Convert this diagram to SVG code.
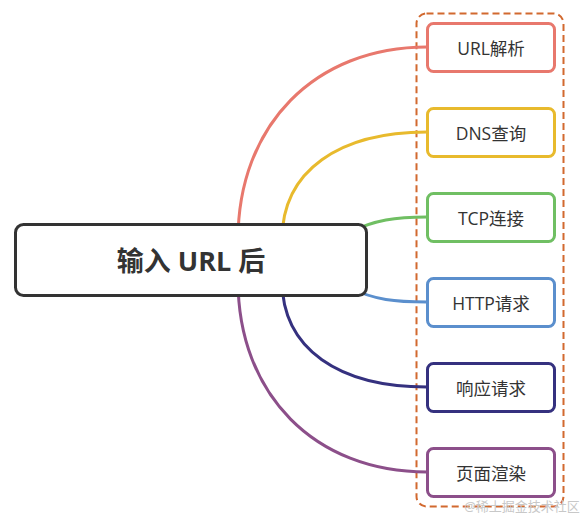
<svg xmlns="http://www.w3.org/2000/svg" width="580" height="517" viewBox="0 0 580 517">
<style>
.conn{fill:none;stroke-width:3}
.box{fill:#fff;stroke-width:3}
.lbl{font-family:"Open Sans","Noto Sans CJK SC",sans-serif;font-size:17.5px;fill:#333;text-anchor:middle;dominant-baseline:central}
.main{font-family:"Open Sans","Noto Sans CJK SC",sans-serif;font-size:27px;font-weight:bold;fill:#333;text-anchor:middle;dominant-baseline:central}
</style>
<rect width="580" height="517" fill="#fff"/>
<rect id="group-frame" x="416.5" y="13.5" width="147" height="493" rx="10" fill="none" stroke="#d2692f" stroke-width="2" stroke-dasharray="7,4"/>
<g id="connectors">
<path class="conn" stroke="#e8786d" d="M238,240 C238,125 315,47 427,47"/>
<path class="conn" stroke="#e8ba2d" d="M282,240 C282,170 340,132 427,132"/>
<path class="conn" stroke="#70bf63" d="M350,232 C375,220 395,217 427,217"/>
<path class="conn" stroke="#5b8fcd" d="M350,288 C375,300 395,302 427,302"/>
<path class="conn" stroke="#35317f" d="M282,280 C282,350 340,387 427,387"/>
<path class="conn" stroke="#8c4f8a" d="M238,280 C238,395 315,472 427,472"/>
</g>
<g id="main">
<rect x="15.5" y="224.5" width="351" height="71" rx="8" fill="#fff" stroke="#333" stroke-width="3"/>
<text class="main" x="191" y="260">输入 URL 后</text>
</g>
<g id="n1"><rect class="box" x="427.5" y="23.5" width="127" height="48" rx="6" stroke="#e8786d"/><text class="lbl" x="491" y="47.5">URL解析</text></g>
<g id="n2"><rect class="box" x="427.5" y="108.5" width="127" height="48" rx="6" stroke="#e8ba2d"/><text class="lbl" x="491" y="132.5">DNS查询</text></g>
<g id="n3"><rect class="box" x="427.5" y="193.5" width="127" height="48" rx="6" stroke="#70bf63"/><text class="lbl" x="491" y="217.5">TCP连接</text></g>
<g id="n4"><rect class="box" x="427.5" y="278.5" width="127" height="48" rx="6" stroke="#5b8fcd"/><text class="lbl" x="491" y="302.5">HTTP请求</text></g>
<g id="n5"><rect class="box" x="427.5" y="363.5" width="127" height="48" rx="6" stroke="#35317f"/><text class="lbl" x="491" y="387.5">响应请求</text></g>
<g id="n6"><rect class="box" x="427.5" y="448.5" width="127" height="48" rx="6" stroke="#8c4f8a"/><text class="lbl" x="491" y="472.5">页面渲染</text></g>
<text x="522" y="506" font-family="'Noto Sans','Noto Sans CJK SC',sans-serif" font-size="13" fill="#c8c8c8" text-anchor="middle" dominant-baseline="central">@稀土掘金技术社区</text>
</svg>
